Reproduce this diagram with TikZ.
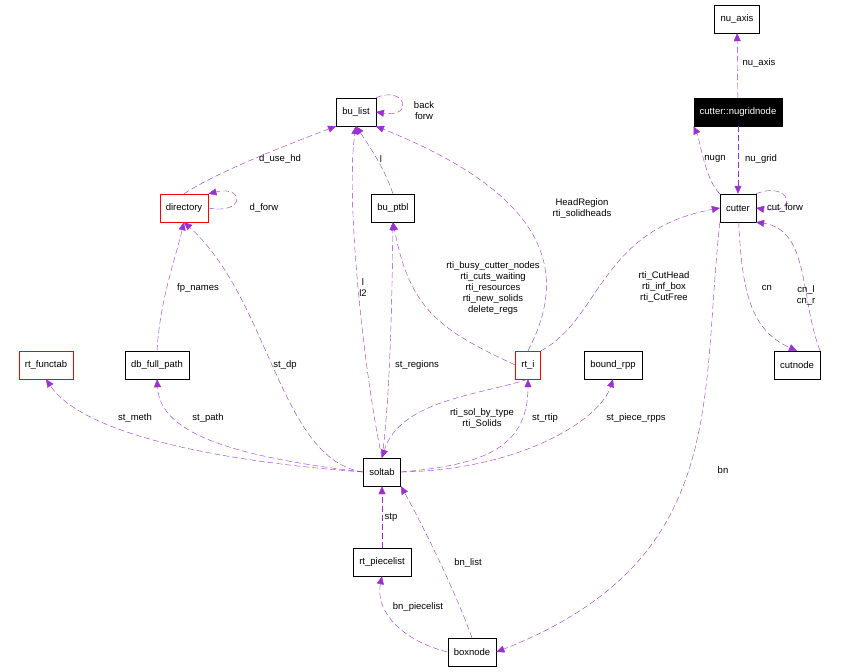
\documentclass[tikz,border=0pt]{standalone}
\usepackage{fontspec}
\setmainfont{Liberation Sans}
\usetikzlibrary{arrows.meta}
\definecolor{edge}{HTML}{9A32CD}
\tikzset{
  cls/.style={draw, fill=white, minimum height=28pt, inner xsep=6pt, font=\fontsize{9.5}{11}\selectfont},
  redcls/.style={cls, draw=red},
  use/.style={draw=edge, dash pattern=on 6pt off 3pt, -{Triangle[length=8pt,width=7pt,fill=edge]}},
  lbl/.style={align=center, font=\fontsize{9.5}{11}\selectfont, inner sep=1pt}
}
\begin{document}
\begin{tikzpicture}[x=1pt, y=-1pt]
\useasboundingbox (0,0) rectangle (847,672);
% classes
\node[cls] (nu-axis) at (737,19) {nu\_axis};
\node[cls, fill=black, text=white] (nugridnode) at (738,112) {cutter::nugridnode};
\node[cls] (bu-list) at (356,112) {bu\_list};
\node[redcls] (directory) at (184,208) {directory};
\node[cls] (bu-ptbl) at (393,208) {bu\_ptbl};
\node[cls] (cutter) at (738,208) {cutter};
\node[redcls] (rt-functab) at (46,365) {rt\_functab};
\node[cls] (db-full-path) at (157,365) {db\_full\_path};
\node[redcls] (rt-i) at (528,365) {rt\_i};
\node[cls] (bound-rpp) at (613,365) {bound\_rpp};
\node[cls] (cutnode) at (797,365) {cutnode};
\node[cls] (soltab) at (382,472) {soltab};
\node[cls] (rt-piecelist) at (382,562) {rt\_piecelist};
\node[cls] (boxnode) at (472,652) {boxnode};

% cutter side
\draw[use] (nugridnode) -- (nu-axis);
\node[lbl] (l-nu-axis) at (759,63) {nu\_axis};
\draw[use] (nugridnode) -- (cutter);
\node[lbl] (l-nu-grid) at (761,159) {nu\_grid};
\draw[use] (cutter.north west) .. controls (705,180) and (700,140) .. (nugridnode.south west);
\node[lbl] (l-nugn) at (715,159) {nugn};
\draw[use] (cutter.north east) .. controls (790,180) and (800,215) .. (cutter.east);
\node[lbl] (l-cut-forw) at (785,208) {cut\_forw};
\draw[use] (cutter) .. controls (742,290) and (750,330) .. (cutnode.north);
\node[lbl] (l-cn) at (767,288) {cn};
\draw[use] (cutnode.north east) .. controls (800,300) and (810,230) .. (cutter.south east);
\node[lbl] (l-cn-lr) at (806,295) {cn\_l\\cn\_r};
\draw[use] (cutter.south west) .. controls (700,400) and (730,560) .. (boxnode.east);
\node[lbl] (l-bn) at (723,470) {bn};

% bu_list
\draw[use] (bu-list.north east) .. controls (405,85) and (415,118) .. (bu-list.east);
\node[lbl] (l-back) at (424,111) {back\\forw};
\draw[use] (directory.north) .. controls (220,170) and (300,140) .. (bu-list.south west);
\node[lbl] (l-d-use-hd) at (280,159) {d\_use\_hd};
\draw[use] (bu-ptbl.north) .. controls (385,170) and (372,150) .. (bu-list.south);
\node[lbl] (l-l) at (381,159) {l};
\draw[use] (soltab.north) .. controls (365,380) and (345,200) .. (bu-list.south);
\node[lbl] (l-l2) at (363,288) {l\\l2};
\draw[use] (rt-i.north) .. controls (565,280) and (560,200) .. (bu-list.south east);
\node[lbl] (l-head) at (582,208) {HeadRegion\\rti\_solidheads};

% directory
\draw[use] (directory.east) .. controls (245,215) and (245,185) .. (directory.north east);
\node[lbl] (l-d-forw) at (264,208) {d\_forw};
\draw[use] (db-full-path.north) .. controls (160,300) and (175,260) .. (directory.south);
\node[lbl] (l-fp) at (198,288) {fp\_names};
\draw[use] (soltab.west) .. controls (280,460) and (270,300) .. (directory.south);
\node[lbl] (l-st-dp) at (285,365) {st\_dp};

% bu_ptbl, cutter from rt_i
\draw[use] (rt-i.west) .. controls (440,330) and (410,310) .. (bu-ptbl.south);
\node[lbl] (l-rti-busy) at (493,288) {rti\_busy\_cutter\_nodes\\rti\_cuts\_waiting\\rti\_resources\\rti\_new\_solids\\delete\_regs};
\draw[use] (soltab.north) .. controls (390,400) and (392,300) .. (bu-ptbl.south);
\node[lbl] (l-st-regions) at (417,365) {st\_regions};
\draw[use] (rt-i.north east) .. controls (600,320) and (600,230) .. (cutter.west);
\node[lbl] (l-cuthead) at (664,287) {rti\_CutHead\\rti\_inf\_box\\rti\_CutFree};

% soltab
\draw[use] (soltab.west) .. controls (200,460) and (80,430) .. (rt-functab.south);
\node[lbl] (l-st-meth) at (135,418) {st\_meth};
\draw[use] (soltab.west) .. controls (220,455) and (160,430) .. (db-full-path.south);
\node[lbl] (l-st-path) at (208,418) {st\_path};
\draw[use] (rt-i.south) .. controls (480,395) and (400,400) .. (soltab.north);
\node[lbl] (l-sol-by-type) at (482,418) {rti\_sol\_by\_type\\rti\_Solids};
\draw[use] (soltab.east) .. controls (480,465) and (528,450) .. (rt-i.south);
\node[lbl] (l-st-rtip) at (545,418) {st\_rtip};
\draw[use] (soltab.east) .. controls (520,470) and (600,420) .. (bound-rpp.south);
\node[lbl] (l-piece-rpps) at (636,418) {st\_piece\_rpps};
\draw[use] (rt-piecelist) -- (soltab);
\node[lbl] (l-stp) at (391,517) {stp};
\draw[use] (boxnode.north) .. controls (455,590) and (420,520) .. (soltab.south east);
\node[lbl] (l-bn-list) at (468,563) {bn\_list};
\draw[use] (boxnode.west) .. controls (400,640) and (375,610) .. (rt-piecelist.south);
\node[lbl] (l-bn-piecelist) at (418,607) {bn\_piecelist};
\end{tikzpicture}
\end{document}
